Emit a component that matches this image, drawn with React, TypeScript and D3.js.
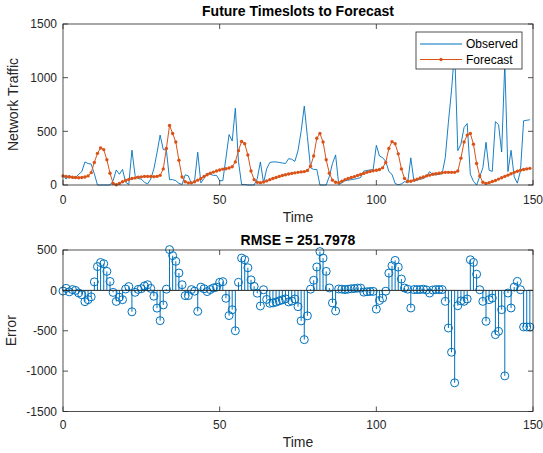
import React, { useEffect, useRef } from "react";
import * as d3 from "d3";

const observed = [
  93, 55, 93, 62, 70, 100, 124, 215, 200, 195, 105, 0, 0, 0, 0, 0, 40, 140, 100, 145,
  25, 5, 325, 90, 60, 55, 25, 10, 55, 150, 300, 465, 330, 325, 50, 50, 40, 15, 5, 95,
  85, 10, 40, 305, 20, 60, 110, 100, 90, 90, 40, 40, 250, 470, 410, 715, 220, 5, 5, 0,
  0, 0, 60, 215, 20, 150, 210, 215, 215, 210, 205, 200, 245, 240, 220, 320, 500, 735, 450, 160,
  145, 145, 0, 0, 0, 80, 200, 280, 5, 20, 40, 45, 50, 55, 60, 70, 130, 135, 140, 145,
  370, 270, 255, 220, 126, 99, 14, 2, 10, 31, 20, 253, 35, 45, 55, 60, 80, 125, 95, 95,
  100, 105, 254, 584, 884, 1263, 320, 380, 536, 572, 101, 34, 0, 77, 161, 398, 137, 127, 590, 562,
  307, 1139, 125, 323, 77, 17, 130, 598, 603, 608,
];

const forecast = [
  85, 80, 75, 72, 70, 68, 70, 75, 85, 115, 210, 295, 345, 330, 235, 110, 15, 3, 15, 30,
  42, 52, 60, 66, 72, 76, 80, 80, 80, 78, 80, 90, 150, 340, 555, 480, 400, 230, 75, 30,
  20, 20, 30, 45, 60, 80, 95, 110, 120, 130, 140, 148, 152, 158, 170, 215, 320, 405, 385, 280,
  130, 50, 25, 22, 28, 38, 50, 60, 70, 80, 88, 95, 102, 108, 113, 118, 122, 125, 135, 175,
  270, 435, 480, 400, 235, 110, 45, 25, 22, 35, 50, 60, 70, 78, 88, 98, 108, 118, 126, 133,
  138, 145, 160, 210, 340, 404, 385, 290, 150, 60, 35, 35, 45, 55, 65, 75, 85, 92, 100, 105,
  110, 115, 118, 118, 118, 118, 130, 250, 400, 465, 480, 380, 200, 85, 25, 15, 22, 32, 42, 55,
  68, 80, 92, 105, 118, 128, 138, 145, 150, 155,
];

const errors = [
  -8, 25, -18, 10, 0, -32, -54, -140, -115, -80, 105, 295, 345, 330, 235, 110, -25, -137, -85, -115,
  17, 47, -265, -24, 12, 21, 55, 70, 25, -72, -220, -375, -180, 15, 505, 430, 360, 215, 70, -65,
  -65, 10, -10, -260, 40, 20, -15, 10, 30, 40, 100, 108, -98, -312, -240, -500, 100, 400, 380, 280,
  130, 50, -35, -193, 8, -112, -160, -155, -145, -130, -117, -105, -143, -132, -107, -202, -378, -610, -315, 15,
  125, 290, 480, 400, 235, 30, -155, -255, 17, 15, 10, 15, 20, 23, 28, 28, -22, -17, -14, -12,
  -232, -125, -95, -10, 214, 305, 371, 288, 140, 29, 15, -218, 10, 10, 10, 15, 5, -33, 5, 10,
  10, 10, -136, -466, -766, -1145, -190, -130, -136, -107, 379, 346, 200, 8, -136, -383, -115, -95, -548, -507,
  -239, -1059, -33, -218, 41, 111, 8, -453, -453, -453,
];

const xTicks = [0, 50, 100, 150];
const trafficTicks = [0, 500, 1000, 1500];
const errorTicks = [-1500, -1000, -500, 0, 500];

const W = 543;
const H = 453;
const FONT = "'Liberation Sans', Arial, Helvetica, sans-serif";
const INK = "#262626";
const BLUE = "#0072BD";
const ORANGE = "#D95319";

function drawFrame(svg, x, y, yTicks, xPad, title, yLabel, titleY, timeY, yLabelX) {
  const [x0, x1] = x.range();
  const [yb, yt] = y.range();
  const g = svg.append("g");
  const tick = 5;

  g.append("rect")
    .attr("x", x0)
    .attr("y", yt)
    .attr("width", x1 - x0)
    .attr("height", yb - yt)
    .attr("fill", "none")
    .attr("stroke", INK)
    .attr("stroke-width", 0.8);

  xTicks.forEach((t) => {
    g.append("line").attr("x1", x(t)).attr("x2", x(t)).attr("y1", yb).attr("y2", yb - tick)
      .attr("stroke", INK).attr("stroke-width", 0.8);
    g.append("line").attr("x1", x(t)).attr("x2", x(t)).attr("y1", yt).attr("y2", yt + tick)
      .attr("stroke", INK).attr("stroke-width", 0.8);
    g.append("text")
      .attr("x", x(t))
      .attr("y", yb + xPad)
      .attr("dy", "0.71em")
      .attr("text-anchor", "middle")
      .attr("font-size", 12)
      .attr("fill", INK)
      .text(t);
  });

  yTicks.forEach((t) => {
    g.append("line").attr("x1", x0).attr("x2", x0 + tick).attr("y1", y(t)).attr("y2", y(t))
      .attr("stroke", INK).attr("stroke-width", 0.8);
    g.append("line").attr("x1", x1).attr("x2", x1 - tick).attr("y1", y(t)).attr("y2", y(t))
      .attr("stroke", INK).attr("stroke-width", 0.8);
    g.append("text")
      .attr("x", x0 - 6)
      .attr("y", y(t))
      .attr("dy", "0.35em")
      .attr("text-anchor", "end")
      .attr("font-size", 12)
      .attr("fill", INK)
      .text(t);
  });

  g.append("text")
    .attr("x", (x0 + x1) / 2)
    .attr("y", titleY)
    .attr("text-anchor", "middle")
    .attr("font-size", 14)
    .attr("font-weight", "bold")
    .attr("fill", "#000")
    .text(title);

  g.append("text")
    .attr("x", (x0 + x1) / 2)
    .attr("y", timeY)
    .attr("text-anchor", "middle")
    .attr("font-size", 14)
    .attr("fill", INK)
    .text("Time");

  g.append("text")
    .attr("transform", `translate(${yLabelX}, ${(yb + yt) / 2}) rotate(-90)`)
    .attr("text-anchor", "middle")
    .attr("font-size", 14)
    .attr("fill", INK)
    .text(yLabel);
}

export default function App() {
  const ref = useRef<SVGSVGElement>(null);

  useEffect(() => {
    const svg = d3.select(ref.current);
    svg.selectAll("*").remove();
    svg.attr("font-family", FONT);
    svg.append("rect").attr("width", W).attr("height", H).attr("fill", "#fff");

    const x = d3.scaleLinear().domain([0, 150]).range([63, 533]);
    const yTop = d3.scaleLinear().domain([0, 1500]).range([185, 24]);
    const yBot = d3.scaleLinear().domain([-1500, 500]).range([411.5, 250]);

    // top panel: observed vs forecast
    const line = d3.line<number>().x((_, i) => x(i)).y((d) => yTop(d));

    svg.append("path")
      .datum(observed)
      .attr("d", line)
      .attr("fill", "none")
      .attr("stroke", BLUE)
      .attr("stroke-width", 0.9);

    svg.append("path")
      .datum(forecast)
      .attr("d", line)
      .attr("fill", "none")
      .attr("stroke", ORANGE)
      .attr("stroke-width", 1);

    svg.append("g")
      .selectAll("circle")
      .data(forecast)
      .join("circle")
      .attr("cx", (_, i) => x(i))
      .attr("cy", (d) => yTop(d))
      .attr("r", 1.7)
      .attr("fill", ORANGE);

    drawFrame(svg, x, yTop, trafficTicks, 10, "Future Timeslots to Forecast", "Network Traffic", 16, 222, 18);

    const legend = svg.append("g");
    legend.append("rect")
      .attr("x", 416).attr("y", 32).attr("width", 106).attr("height", 37)
      .attr("fill", "#fff").attr("stroke", INK).attr("stroke-width", 0.8);
    legend.append("line").attr("x1", 420).attr("x2", 462).attr("y1", 44).attr("y2", 44)
      .attr("stroke", BLUE).attr("stroke-width", 1);
    legend.append("line").attr("x1", 420).attr("x2", 462).attr("y1", 59.5).attr("y2", 59.5)
      .attr("stroke", ORANGE).attr("stroke-width", 1);
    legend.append("circle").attr("cx", 441).attr("cy", 59.5).attr("r", 1.7).attr("fill", ORANGE);
    legend.append("text").attr("x", 466).attr("y", 44).attr("dy", "0.35em")
      .attr("font-size", 12).attr("fill", "#000").text("Observed");
    legend.append("text").attr("x", 466).attr("y", 59.5).attr("dy", "0.35em")
      .attr("font-size", 12).attr("fill", "#000").text("Forecast");

    // bottom panel: error stems
    const stems = svg.append("g");
    stems.selectAll("line")
      .data(errors)
      .join("line")
      .attr("x1", (_, i) => x(i))
      .attr("x2", (_, i) => x(i))
      .attr("y1", yBot(0))
      .attr("y2", (d) => yBot(d))
      .attr("stroke", BLUE)
      .attr("stroke-width", 1);

    svg.append("line")
      .attr("x1", x(0)).attr("x2", x(150))
      .attr("y1", yBot(0)).attr("y2", yBot(0))
      .attr("stroke", INK).attr("stroke-width", 1);

    stems.selectAll("circle")
      .data(errors)
      .join("circle")
      .attr("cx", (_, i) => x(i))
      .attr("cy", (d) => yBot(d))
      .attr("r", 4)
      .attr("fill", "none")
      .attr("stroke", BLUE)
      .attr("stroke-width", 1);

    drawFrame(svg, x, yBot, errorTicks, 9, "RMSE = 251.7978", "Error", 245, 447, 16);
  }, []);

  return (
    <svg
      ref={ref}
      width={W}
      height={H}
      style={{ position: "absolute", left: 0, top: 0 }}
    />
  );
}
